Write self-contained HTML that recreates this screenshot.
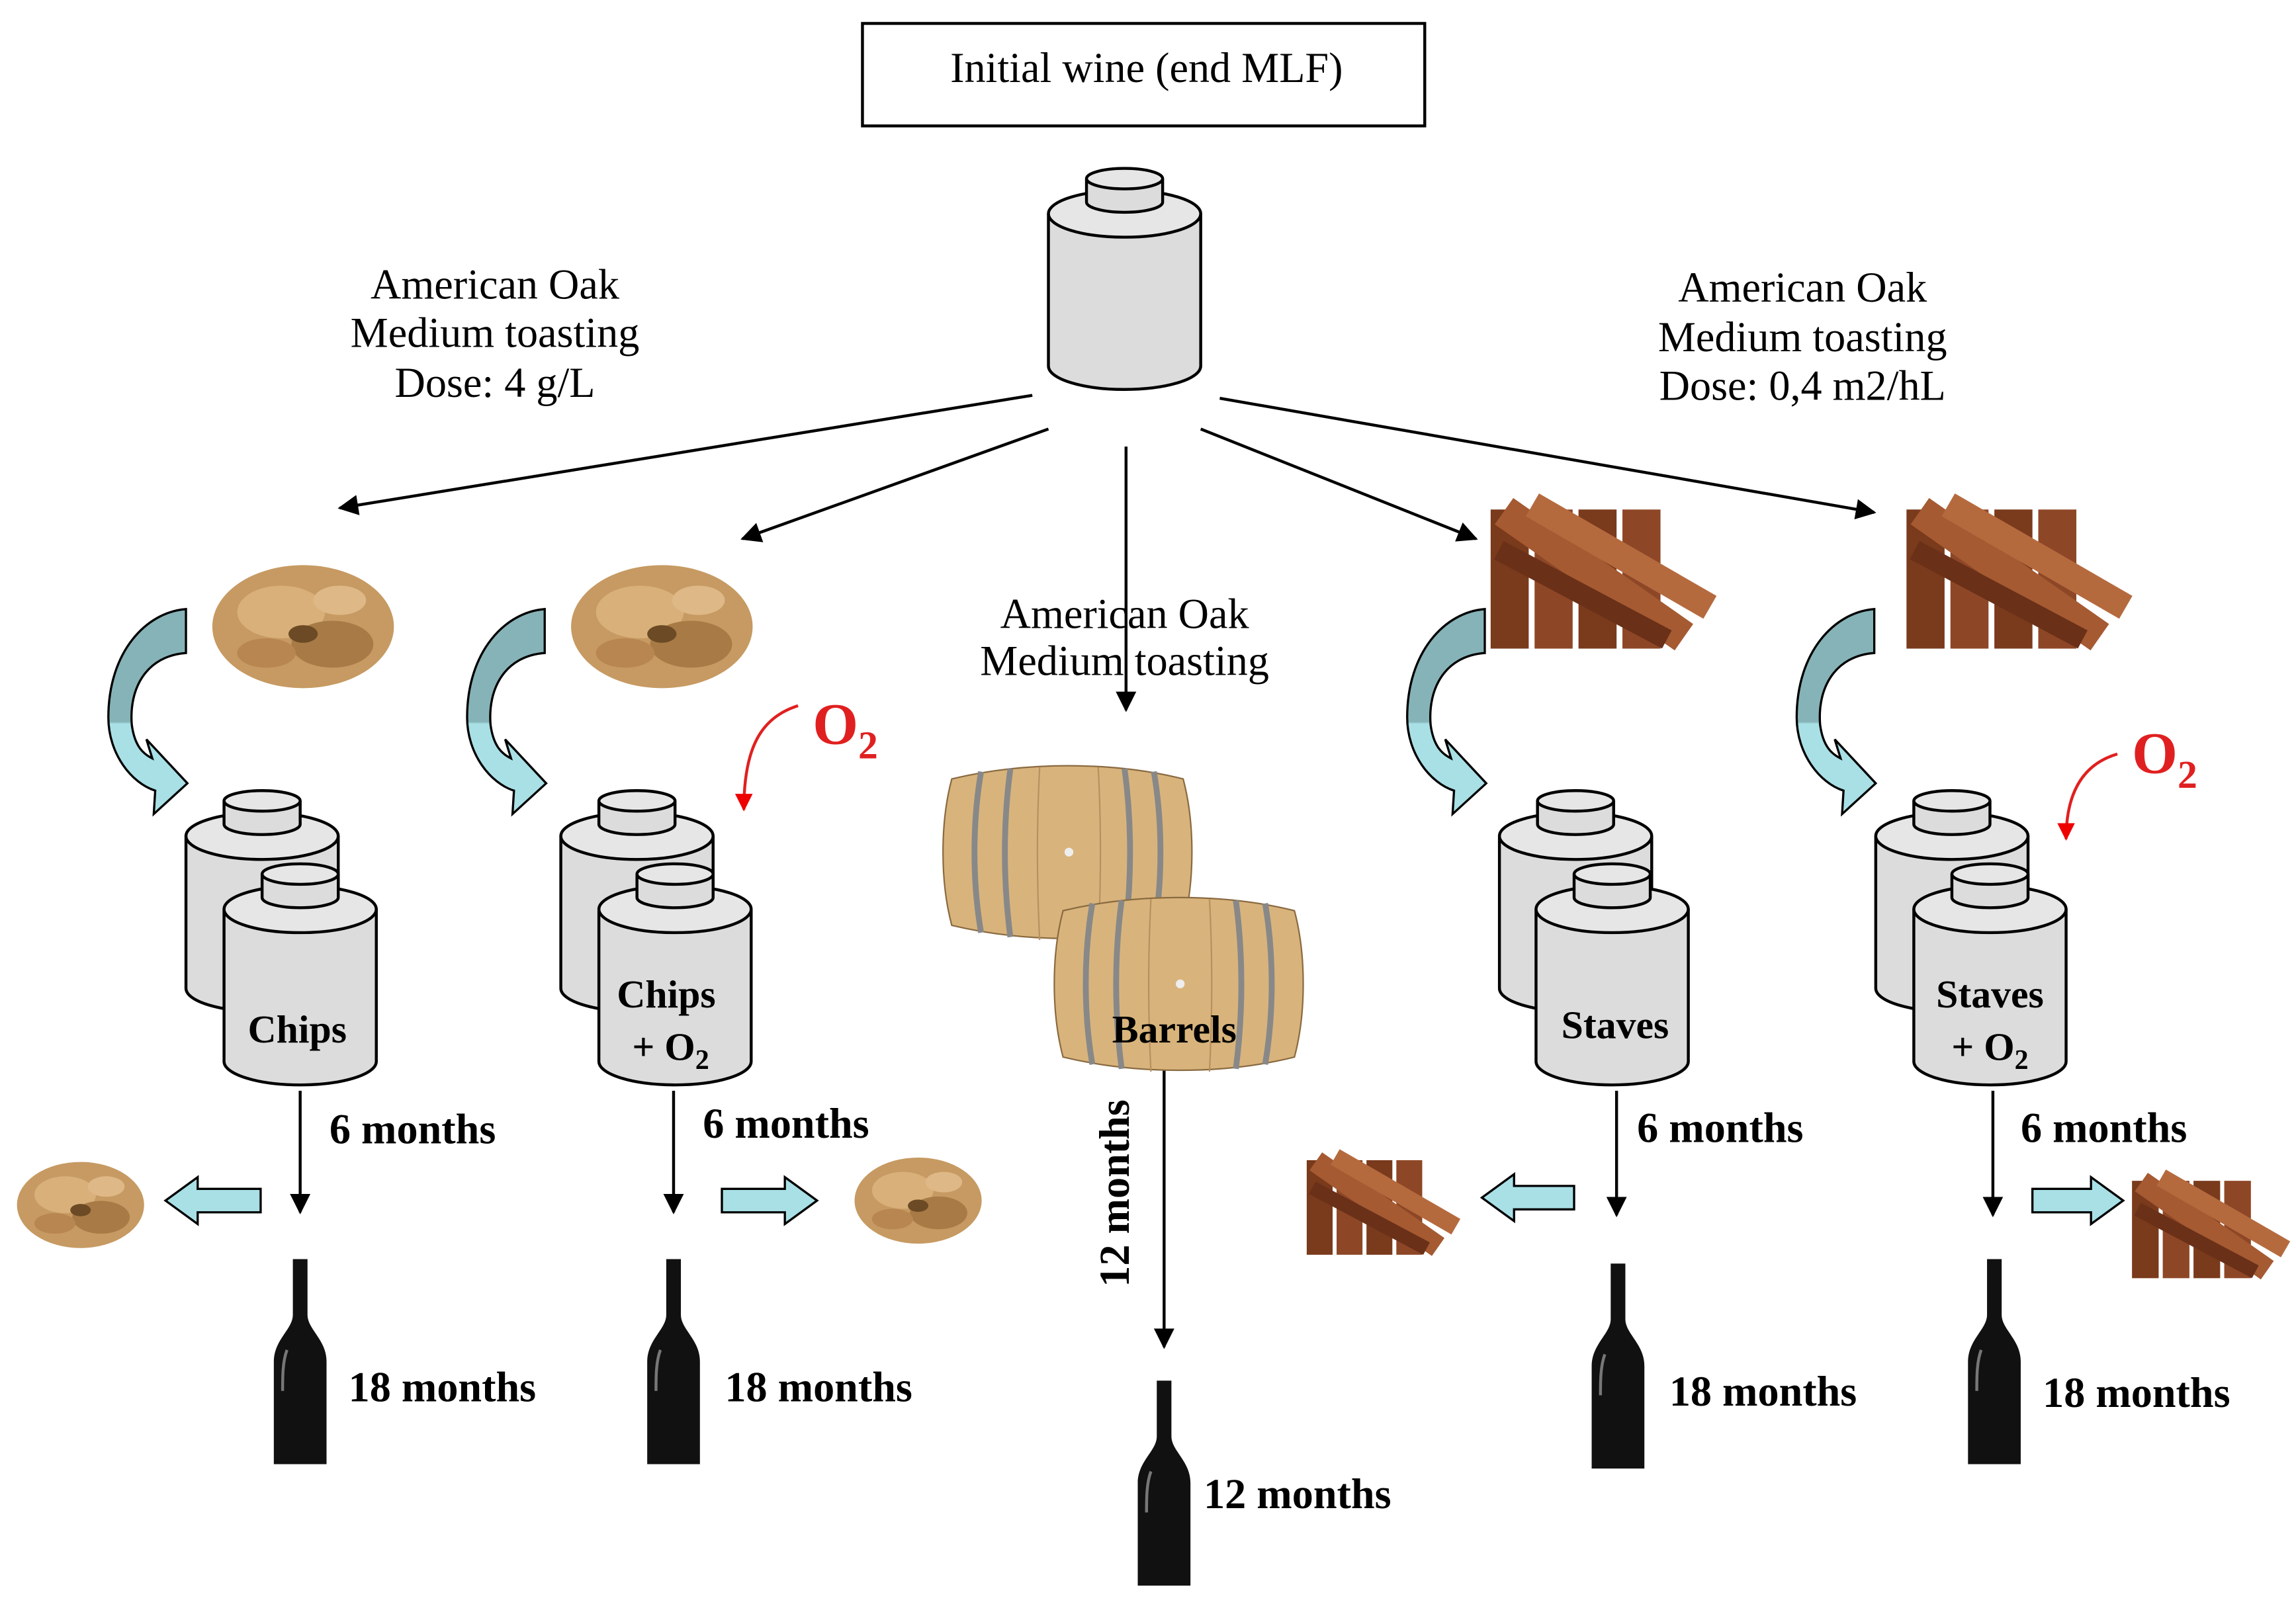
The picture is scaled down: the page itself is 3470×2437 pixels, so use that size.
<!DOCTYPE html>
<html><head><meta charset="utf-8"><style>
html,body{margin:0;padding:0;background:#fff;}
svg{display:block;}
.s{font-family:"Liberation Serif",serif;}
.b{font-family:"Liberation Serif",serif;font-weight:bold;}
</style></head><body>
<svg width="3470" height="2437" viewBox="0 0 1568 1101" preserveAspectRatio="none" xmlns="http://www.w3.org/2000/svg">
<defs>
<marker id="ah" viewBox="0 0 10 10" refX="9" refY="5" markerWidth="7" markerHeight="7" orient="auto"><path d="M0,0 L10,5 L0,10 z" fill="#000"/></marker>
<marker id="rh" viewBox="0 0 10 10" refX="9" refY="5" markerWidth="6" markerHeight="6" orient="auto"><path d="M0,0 L10,5 L0,10 z" fill="#e00"/></marker>
<linearGradient id="cg" x1="0" y1="0" x2="0" y2="1"><stop offset="0.55" stop-color="#86b3b7"/><stop offset="0.56" stop-color="#a8e0e6"/></linearGradient>
<g id="tank">
 <path d="M0,16 V120 A52,16 0 0 0 104,120 V16" fill="#dcdcdc" stroke="#000" stroke-width="2"/>
 <ellipse cx="52" cy="16" rx="52" ry="16" fill="#e6e6e6" stroke="#000" stroke-width="2"/>
 <path d="M26,-8 V8 A26,7 0 0 0 78,8 V-8" fill="#dcdcdc" stroke="#000" stroke-width="2"/>
 <ellipse cx="52" cy="-8" rx="26" ry="7" fill="#e6e6e6" stroke="#000" stroke-width="2"/>
</g>
<g id="bottle">
 <path d="M-5,0 H5 V38 C5,48 18,55 18,70 V140 H-18 V70 C-18,55 -5,48 -5,38 Z" fill="#111"/>
 <path d="M-9,62 C-12,70 -12,80 -12,90" stroke="#777" stroke-width="2" fill="none"/>
</g>
<g id="chips">
 <ellipse cx="0" cy="0" rx="62" ry="42" fill="#c69a62"/>
 <ellipse cx="-15" cy="-10" rx="30" ry="18" fill="#d9b07a"/>
 <ellipse cx="20" cy="12" rx="28" ry="16" fill="#a87a45"/>
 <ellipse cx="-25" cy="18" rx="20" ry="10" fill="#b88650"/>
 <ellipse cx="25" cy="-18" rx="18" ry="10" fill="#deb887"/>
 <ellipse cx="0" cy="5" rx="10" ry="6" fill="#6b4a25"/>
</g>
<g id="staves">
 <rect x="-70" y="-45" width="26" height="95" fill="#7a3a1c"/>
 <rect x="-40" y="-45" width="26" height="95" fill="#8e4726"/>
 <rect x="-10" y="-45" width="26" height="95" fill="#7a3a1c"/>
 <rect x="20" y="-45" width="26" height="95" fill="#8e4726"/>
 <rect x="-75" y="-12" width="150" height="22" fill="#a55a32" transform="rotate(35)"/>
 <rect x="-60" y="-30" width="140" height="18" fill="#b56a3e" transform="rotate(30)"/>
 <rect x="-65" y="8" width="130" height="14" fill="#6a3018" transform="rotate(28)"/>
</g>
<g id="barrel">
 <path d="M0,10 C-8,40 -8,80 0,110 C50,122 110,122 158,110 C166,80 166,40 158,10 C110,-2 50,-2 0,10 Z" fill="#d8b47c" stroke="#8a6a40" stroke-width="1"/>
 <path d="M20,5 C14,40 14,80 20,115 M40,3 C35,40 35,80 40,118 M118,3 C123,40 123,80 118,118 M138,5 C144,40 144,80 138,115" stroke="#888" stroke-width="4" fill="none"/>
 <path d="M60,2 C58,40 58,80 60,120 M100,2 C102,40 102,80 100,120" stroke="#b89060" stroke-width="1" fill="none"/>
 <circle cx="80" cy="60" r="3" fill="#eee"/>
</g>
<path id="carrow" d="M127,416 L127,446 C100,448 88,470 90,495 C92,510 98,515 104,518 L100,505 L128,535 L105,556 L106,540 C90,535 74,515 74,490 C74,445 100,418 127,416 Z" fill="url(#cg)" stroke="#000" stroke-width="1.5"/>
</defs>

<rect x="589" y="16" width="384" height="70" fill="#fff" stroke="#000" stroke-width="2"/>
<text x="783" y="56" class="s" font-size="29" text-anchor="middle">Initial wine (end MLF)</text>

<use href="#tank" x="716" y="130"/>

<g class="s" font-size="29" text-anchor="middle">
<text x="338" y="204">American Oak</text><text x="338" y="237">Medium toasting</text><text x="338" y="271">Dose: 4 g/L</text>
<text x="1231" y="206">American Oak</text><text x="1231" y="240">Medium toasting</text><text x="1231" y="273">Dose: 0,4 m2/hL</text>
<text x="768" y="429">American Oak</text><text x="768" y="461">Medium toasting</text>
</g>

<g stroke="#000" stroke-width="2" marker-end="url(#ah)">
<line x1="705" y1="270" x2="232" y2="347"/>
<line x1="716" y1="293" x2="507" y2="368"/>
<line x1="769" y1="305" x2="769" y2="485"/>
<line x1="820" y1="293" x2="1008" y2="368"/>
<line x1="833" y1="272" x2="1280" y2="350"/>
<line x1="205" y1="745" x2="205" y2="828"/>
<line x1="460" y1="745" x2="460" y2="828"/>
<line x1="795" y1="728" x2="795" y2="920"/>
<line x1="1104" y1="745" x2="1104" y2="830"/>
<line x1="1361" y1="745" x2="1361" y2="830"/>
</g>

<use href="#chips" x="207" y="428"/>
<use href="#chips" x="452" y="428"/>
<use href="#chips" transform="translate(55,823) scale(0.7)"/>
<use href="#chips" transform="translate(627,820) scale(0.7)"/>
<use href="#staves" x="1088" y="393"/>
<use href="#staves" x="1372" y="393"/>
<use href="#staves" transform="translate(940,823) scale(0.68)"/>
<use href="#staves" transform="translate(1505,838) scale(0.7)"/>

<use href="#carrow"/>
<use href="#carrow" x="245"/>
<use href="#carrow" x="887"/>
<use href="#carrow" x="1153"/>

<use href="#tank" x="127" y="555"/><use href="#tank" x="153" y="605"/>
<use href="#tank" x="383" y="555"/><use href="#tank" x="409" y="605"/>
<use href="#tank" x="1024" y="555"/><use href="#tank" x="1049" y="605"/>
<use href="#tank" x="1281" y="555"/><use href="#tank" x="1307" y="605"/>

<use href="#barrel" x="650" y="522"/>
<use href="#barrel" x="726" y="612"/>

<g class="b" font-size="27" text-anchor="middle">
<text x="203" y="712">Chips</text>
<text x="455" y="688">Chips</text><text x="458" y="724">+ O<tspan font-size="19" dy="6">2</tspan></text>
<text x="802" y="712">Barrels</text>
<text x="1103" y="709">Staves</text>
<text x="1359" y="688">Staves</text><text x="1359" y="724">+ O<tspan font-size="19" dy="6">2</tspan></text>
</g>

<g fill="#e02020" class="b">
<text x="555" y="508" font-size="40">O<tspan font-size="27" dy="10">2</tspan></text>
<text x="1456" y="528" font-size="40">O<tspan font-size="27" dy="10">2</tspan></text>
</g>
<path d="M545,482 C520,490 508,510 508,553" stroke="#e02020" stroke-width="2" fill="none" marker-end="url(#rh)"/>
<path d="M1446,515 C1422,522 1411,542 1411,573" stroke="#e02020" stroke-width="2" fill="none" marker-end="url(#rh)"/>

<g fill="#a8e0e6" stroke="#000" stroke-width="1.5">
<path d="M178,812 H135 V804 L113,820 L135,836 V828 H178 Z"/>
<path d="M493,812 H536 V804 L558,820 L536,836 V828 H493 Z"/>
<path d="M1075,810 H1034 V802 L1012,818 L1034,834 V826 H1075 Z"/>
<path d="M1388,812 H1428 V804 L1450,820 L1428,836 V828 H1388 Z"/>
</g>

<g class="b" font-size="29">
<text x="225" y="781">6 months</text>
<text x="480" y="777">6 months</text>
<text x="1118" y="780">6 months</text>
<text x="1380" y="780">6 months</text>
<text x="238" y="957">18 months</text>
<text x="495" y="957">18 months</text>
<text x="1140" y="960">18 months</text>
<text x="1395" y="961">18 months</text>
<text x="822" y="1030">12 months</text>
<text transform="translate(771,815) rotate(-90)" text-anchor="middle">12 months</text>
</g>

<use href="#bottle" x="205" y="860"/>
<use href="#bottle" x="460" y="860"/>
<use href="#bottle" x="1105" y="863"/>
<use href="#bottle" x="1362" y="860"/>
<use href="#bottle" x="795" y="943"/>
</svg>
</body></html>
